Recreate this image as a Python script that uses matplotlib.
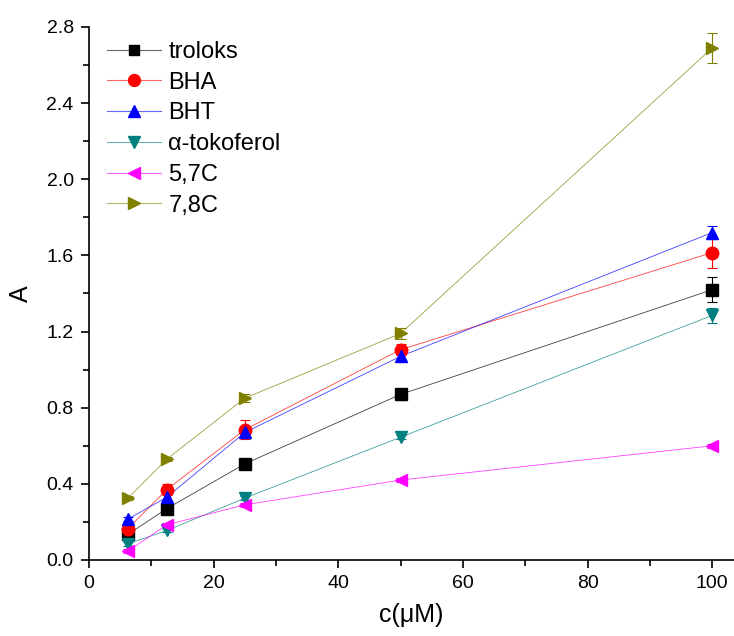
import matplotlib
matplotlib.use("Agg")
import matplotlib.pyplot as plt
from matplotlib.ticker import MultipleLocator, FormatStrFormatter
from matplotlib.lines import Line2D

plt.rcParams['font.family'] = ['Liberation Sans', 'DejaVu Sans']

conc = [6.25, 12.5, 25, 50, 100]

troloks = [0.135, 0.27, 0.505, 0.87, 1.42]
troloks_err = [0.02, 0.02, 0.02, 0.03, 0.065]
bha = [0.165, 0.37, 0.685, 1.105, 1.615]
bha_err = [0.02, 0.03, 0.05, 0.03, 0.08]
bht = [0.215, 0.33, 0.67, 1.07, 1.72]
bht_err = [0.01, 0.02, 0.03, 0.02, 0.035]
atok = [0.085, 0.155, 0.325, 0.645, 1.285]
atok_err = [0.01, 0.01, 0.01, 0.01, 0.04]
c57 = [0.047, 0.185, 0.29, 0.42, 0.6]
c57_err = [0.01, 0.01, 0.01, 0.01, 0.01]
c78 = [0.325, 0.53, 0.85, 1.19, 2.69]
c78_err = [0.01, 0.01, 0.02, 0.03, 0.08]

names = ['troloks', 'BHA', 'BHT', 'α-tokoferol', '5,7C', '7,8C']
series = [troloks, bha, bht, atok, c57, c78]
errors = [troloks_err, bha_err, bht_err, atok_err, c57_err, c78_err]
colors = ['#000000', '#FF0000', '#0000FF', '#008080', '#FF00FF', '#808000']
markers = ['s', 'o', '^', 'v', '<', '>']
msizes = [8, 9, 9, 9, 9, 9]

fig = plt.figure(figsize=(7.34, 6.36), dpi=100)
ax = fig.add_axes([89/734, 76/636, 645/734, 533/636])

handles = []
for name, y, e, c, m, ms in zip(names, series, errors, colors, markers, msizes):
    ax.errorbar(conc, y, yerr=e, fmt='none', ecolor=c, elinewidth=0.8,
                capsize=3.5, capthick=0.8, zorder=2)
    ax.plot(conc, y, color=c, linewidth=0.6, alpha=0.75, zorder=2)
    ax.plot(conc, y, linestyle='none', marker=m, markersize=ms,
            color=c, zorder=3)
    handles.append((Line2D([], [], color=c, linewidth=0.8, alpha=0.6),
                    Line2D([], [], linestyle='none', marker=m, markersize=ms * 0.95,
                           markerfacecolor=c, markeredgecolor=c)))

ax.set_xlim(0, 103.5)
ax.set_ylim(0, 2.8)
ax.xaxis.set_major_locator(MultipleLocator(20))
ax.xaxis.set_minor_locator(MultipleLocator(10))
ax.yaxis.set_major_locator(MultipleLocator(0.4))
ax.yaxis.set_minor_locator(MultipleLocator(0.2))
ax.yaxis.set_major_formatter(FormatStrFormatter('%.1f'))

for s in ['top', 'right']:
    ax.spines[s].set_visible(False)
for s in ['left', 'bottom']:
    ax.spines[s].set_linewidth(1.2)

ax.tick_params(which='major', direction='out', length=6, width=1.2, labelsize=14, pad=5)
ax.tick_params(which='minor', direction='out', length=4, width=1.2)

ax.set_xlabel('c(μM)', fontsize=18, labelpad=8)
ax.set_ylabel('A', fontsize=18, labelpad=10)

leg = ax.legend(handles=handles, labels=names, loc='upper left',
                bbox_to_anchor=(0.028, 0.974),
                frameon=False, fontsize=17, handlelength=2.3, handletextpad=0.3,
                labelspacing=0.37, borderaxespad=0.0, borderpad=0.0)

fig.savefig('out.png', dpi=100)
